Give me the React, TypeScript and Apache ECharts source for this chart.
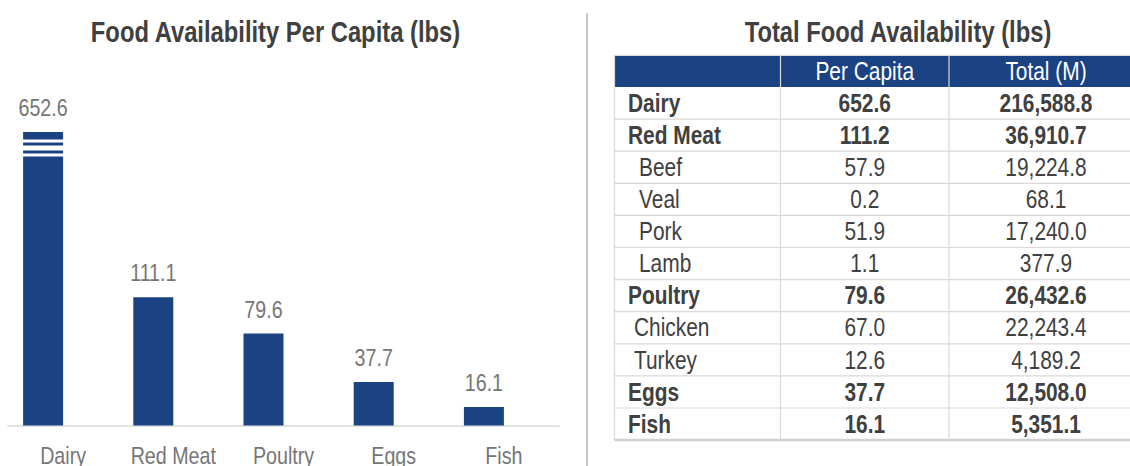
import React, { useEffect, useRef } from 'react';
import * as echarts from 'echarts';

// ---------- data ----------
const chartTitle = 'Food Availability Per Capita (lbs)';
const categories = ['Dairy', 'Red Meat', 'Poultry', 'Eggs', 'Fish'];
const perCapitaValues = [652.6, 111.1, 79.6, 37.7, 16.1];

const tableTitle = 'Total Food Availability (lbs)';
const tableHeaders = ['', 'Per Capita', 'Total (M)'];
const tableItems = ['Dairy', 'Red Meat', 'Beef', 'Veal', 'Pork', 'Lamb', 'Poultry', 'Chicken', 'Turkey', 'Eggs', 'Fish'];
const tablePerCapita = [652.6, 111.2, 57.9, 0.2, 51.9, 1.1, 79.6, 67.0, 12.6, 37.7, 16.1];
const tableTotal = [216588.8, 36910.7, 19224.8, 68.1, 17240.0, 377.9, 26432.6, 22243.4, 4189.2, 12508.0, 5351.1];
const tableParent = ['', '', 'Red Meat', 'Red Meat', 'Red Meat', 'Red Meat', '', 'Poultry', 'Poultry', '', ''];

// ---------- styles ----------
const FONT = "'Liberation Sans', Arial, sans-serif";
const NARROW = 0.82; // horizontal condensing to mimic a narrow face
const BLUE = '#1b4282';
const DARK = '#404040';
const GREY_TXT = '#767676';
const LINE = '#d9d9d9';
const BAR_W = 40;
const indentByParent: Record<string, number> = { '': 0, 'Red Meat': 11, Poultry: 6 };

const colX = [614.5, 780.5, 949, 1143];
const headerTop = 55.5;
const headerH = 31.5;
const rowH = 32.1;

function fmt1(v: number) {
  return v.toLocaleString('en-US', { minimumFractionDigits: 1, maximumFractionDigits: 1 });
}

function txt(text: string, x: number, y: number, size: number, weight: string, fill: string, align: string) {
  return {
    type: 'text',
    x,
    y,
    scaleX: NARROW,
    style: { text, fontFamily: FONT, fontSize: size, fontWeight: weight, fill, align, verticalAlign: 'middle' },
  };
}

function buildGraphics() {
  const g: any[] = [];
  g.push(txt(chartTitle, 275.5, 32, 29, 'bold', DARK, 'center'));
  g.push(txt(tableTitle, 898, 32, 29, 'bold', DARK, 'center'));
  g.push({ type: 'line', shape: { x1: 587, y1: 13, x2: 587, y2: 466 }, style: { stroke: '#a8a8a8', lineWidth: 1.3 } });

  const bodyTop = headerTop + headerH;
  const bottom = bodyTop + rowH * tableItems.length;
  g.push({ type: 'rect', shape: { x: colX[0], y: headerTop, width: colX[3] - colX[0], height: headerH }, style: { fill: BLUE } });
  for (let c = 1; c < 3; c++) {
    g.push(txt(tableHeaders[c], (colX[c] + colX[c + 1]) / 2, headerTop + headerH / 2 + 0.5, 25.5, 'normal', '#ffffff', 'center'));
  }
  g.push({ type: 'line', shape: { x1: colX[0], y1: headerTop, x2: colX[3], y2: headerTop }, style: { stroke: LINE, lineWidth: 1 } });
  for (let i = 1; i < tableItems.length; i++) {
    const y = bodyTop + rowH * i;
    g.push({ type: 'line', shape: { x1: colX[0], y1: y, x2: colX[3], y2: y }, style: { stroke: LINE, lineWidth: 1.2 } });
  }
  g.push({ type: 'line', shape: { x1: colX[0], y1: bottom, x2: colX[3], y2: bottom }, style: { stroke: '#d0d0d0', lineWidth: 2.5 } });
  for (let c = 0; c < 3; c++) {
    g.push({ type: 'line', shape: { x1: colX[c], y1: headerTop, x2: colX[c], y2: bottom }, style: { stroke: LINE, lineWidth: 1.2 } });
  }
  tableItems.forEach((name, i) => {
    const cy = bodyTop + rowH * i + rowH / 2;
    const weight = tableParent[i] === '' ? 'bold' : 'normal';
    g.push(txt(name, 628 + indentByParent[tableParent[i]], cy, 25.5, weight, DARK, 'left'));
    g.push(txt(fmt1(tablePerCapita[i]), (colX[1] + colX[2]) / 2, cy, 25.5, weight, DARK, 'center'));
    g.push(txt(fmt1(tableTotal[i]), (colX[2] + colX[3]) / 2, cy, 25.5, weight, DARK, 'center'));
  });
  return g;
}

export default function App() {
  const ref = useRef<HTMLDivElement>(null);
  useEffect(() => {
    if (!ref.current) return;
    const chart = echarts.init(ref.current, null, { renderer: 'svg' });
    chart.setOption({
      animation: false,
      backgroundColor: '#ffffff',
      grid: { left: 8, width: 551, top: 132, bottom: 40.5, containLabel: false },
      xAxis: {
        type: 'category',
        data: categories,
        axisLine: { show: true, lineStyle: { color: '#e3e3e3', width: 2 } },
        axisTick: { show: false },
        axisLabel: { show: false },
      },
      yAxis: {
        type: 'value',
        min: 0,
        max: 652.6,
        axisLine: { show: false },
        axisTick: { show: false },
        axisLabel: { show: false },
        splitLine: { show: false },
        breaks: [
          { start: 233.5, end: 400, gap: 2.6 },
          { start: 402.6, end: 520, gap: 4.3 },
          { start: 522.6, end: 646.6, gap: 2.6 },
        ],
        breakArea: {
          show: true,
          itemStyle: { color: '#ffffff', borderColor: '#ffffff', borderWidth: 0, opacity: 1 },
          zigzagAmplitude: 0,
          expandOnClick: false,
        },
      },
      series: [
        {
          type: 'bar',
          name: 'Per Capita',
          data: perCapitaValues,
          barWidth: BAR_W,
          barGap: '0%',
          itemStyle: { color: BLUE },
        },
        {
          type: 'bar',
          name: 'spacer',
          data: categories.map(() => null),
          barWidth: BAR_W,
          silent: true,
        },
        {
          type: 'custom',
          name: 'labels',
          silent: true,
          z: 10,
          data: perCapitaValues.map((v, i) => [i, v]),
          encode: { x: 0, y: 1 },
          renderItem: (params: any, api: any) => {
            const i = params.dataIndex;
            const v = api.value(1);
            const top = api.coord([i, v]);
            const base = api.coord([i, 0]);
            return {
              type: 'group',
              children: [
                {
                  type: 'text',
                  x: top[0] - BAR_W / 2,
                  y: top[1] - 24,
                  scaleX: NARROW,
                  style: { text: fmt1(v), fontFamily: FONT, fontSize: 24, fill: GREY_TXT, align: 'center', verticalAlign: 'middle' },
                },
                {
                  type: 'text',
                  x: base[0],
                  y: base[1] + 30.5,
                  scaleX: NARROW,
                  style: { text: categories[i], fontFamily: FONT, fontSize: 24, fill: GREY_TXT, align: 'center', verticalAlign: 'middle' },
                },
              ],
            };
          },
        },
      ],
      graphic: buildGraphics(),
    });
    return () => chart.dispose();
  }, []);
  return <div ref={ref} style={{ position: 'fixed', left: 0, top: 0, width: 1130, height: 466 }} />;
}
